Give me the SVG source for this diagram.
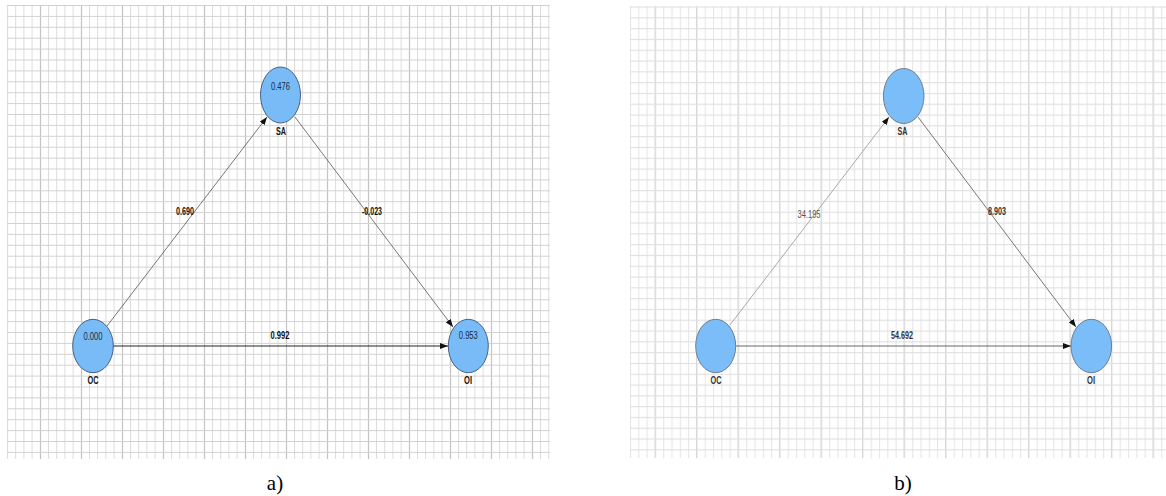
<svg xmlns="http://www.w3.org/2000/svg" width="1166" height="496" viewBox="0 0 1166 496">
<style>
.node{fill:#79bbf7;stroke:#3d5670;stroke-width:0.9}
.nodeb{fill:#7bbdf8;stroke:#6d7f90;stroke-width:1}
.val{font-family:"Liberation Sans Narrow","Liberation Sans",sans-serif;font-size:10px;fill:#1a2a3a;text-anchor:middle}
.lbl{font-family:"Liberation Sans Narrow","Liberation Sans",sans-serif;font-size:10px;font-weight:bold;fill:#111;text-anchor:middle}
.lblb{font-family:"Liberation Sans Narrow","Liberation Sans",sans-serif;font-size:10px;font-weight:bold;fill:#333;text-anchor:middle}
.elbl{font-family:"Liberation Sans Narrow","Liberation Sans",sans-serif;font-size:10px;font-weight:bold;fill:#111;text-anchor:middle}
.cap{font-family:"Liberation Serif",serif;font-size:21px;fill:#000;text-anchor:middle}
</style>
<defs>
<pattern id="va" x="7" y="0" width="8.2" height="10" patternUnits="userSpaceOnUse"><line x1="0.5" y1="0" x2="0.5" y2="10" stroke="#dcdcdc" stroke-width="1"/></pattern>
<pattern id="vA" x="40" y="0" width="41" height="10" patternUnits="userSpaceOnUse"><line x1="0.5" y1="0" x2="0.5" y2="10" stroke="#c4c4c4" stroke-width="1.2"/></pattern>
<pattern id="ha" x="0" y="5" width="10" height="10.9" patternUnits="userSpaceOnUse"><line x1="0" y1="0.5" x2="10" y2="0.5" stroke="#d2d2d2" stroke-width="1"/></pattern>
<pattern id="vb" x="630" y="0" width="8.3" height="10" patternUnits="userSpaceOnUse"><line x1="0.5" y1="0" x2="0.5" y2="10" stroke="#e6e6e6" stroke-width="1.2"/></pattern>
<pattern id="vB" x="696" y="0" width="41.5" height="10" patternUnits="userSpaceOnUse"><line x1="0.5" y1="0" x2="0.5" y2="10" stroke="#d8d8d8" stroke-width="1.4"/></pattern>
<pattern id="hb" x="0" y="6.5" width="10" height="10.8" patternUnits="userSpaceOnUse"><line x1="0" y1="0.5" x2="10" y2="0.5" stroke="#e0e0e0" stroke-width="1.3"/></pattern>
<marker id="arr" markerWidth="8" markerHeight="6" refX="8" refY="3" orient="auto" markerUnits="userSpaceOnUse"><path d="M0,0 L8,3 L0,6 Z" fill="#111"/></marker>
</defs>
<rect width="1166" height="496" fill="#fff"/>
<g id="grid-a">
<rect x="7" y="5" width="543" height="454" fill="url(#va)"/>
<rect x="7" y="5" width="543" height="454" fill="url(#vA)"/>
<rect x="7" y="5" width="543" height="454" fill="url(#ha)"/>
</g>
<g id="grid-b">
<rect x="630" y="6" width="536" height="452" fill="url(#vb)"/>
<rect x="630" y="6" width="536" height="452" fill="url(#vB)"/>
<rect x="630" y="6" width="536" height="452" fill="url(#hb)"/>
</g>
<g id="connectors">
<line x1="107" y1="326" x2="267" y2="117" stroke="#555" stroke-width="0.8" marker-end="url(#arr)"/>
<line x1="295" y1="117" x2="453" y2="327" stroke="#555" stroke-width="0.8" marker-end="url(#arr)"/>
<line x1="113" y1="346" x2="448" y2="346" stroke="#222" stroke-width="1" marker-end="url(#arr)"/>
<line x1="730" y1="325" x2="889" y2="117" stroke="#aaa" stroke-width="1" marker-end="url(#arr)"/>
<line x1="918" y1="117" x2="1076" y2="327" stroke="#777" stroke-width="1" marker-end="url(#arr)"/>
<line x1="736" y1="346" x2="1071" y2="346" stroke="#666" stroke-width="1" marker-end="url(#arr)"/>
<text class="elbl" x="185" y="215" textLength="18" lengthAdjust="spacingAndGlyphs">0.690</text>
<text class="elbl" x="372" y="215" textLength="20" lengthAdjust="spacingAndGlyphs">-0.023</text>
<text class="elbl" x="280" y="339" textLength="19" lengthAdjust="spacingAndGlyphs">0.992</text>
<text class="val" x="809" y="218" style="fill:#555" textLength="23" lengthAdjust="spacingAndGlyphs">34.195</text>
<text class="elbl" x="997" y="215" style="fill:#333" textLength="18" lengthAdjust="spacingAndGlyphs">8.903</text>
<text class="elbl" x="902" y="339" style="fill:#333" textLength="22" lengthAdjust="spacingAndGlyphs">54.692</text>
</g>
<g id="a-SA"><ellipse class="node" cx="280.5" cy="95" rx="20" ry="28"/><text class="val" x="280.5" y="90" textLength="19" lengthAdjust="spacingAndGlyphs">0.476</text><text class="lbl" x="281" y="135" textLength="10" lengthAdjust="spacingAndGlyphs">SA</text></g>
<g id="a-OC"><ellipse class="node" cx="93" cy="346" rx="20.3" ry="26.7"/><text class="val" x="93" y="340" textLength="19" lengthAdjust="spacingAndGlyphs">0.000</text><text class="lbl" x="93" y="384" textLength="11" lengthAdjust="spacingAndGlyphs">OC</text></g>
<g id="a-OI"><ellipse class="node" cx="468.3" cy="346" rx="20" ry="26.7"/><text class="val" x="468.3" y="339" textLength="19" lengthAdjust="spacingAndGlyphs">0.953</text><text class="lbl" x="468" y="384" textLength="8" lengthAdjust="spacingAndGlyphs">OI</text></g>
<g id="b-SA"><ellipse class="nodeb" cx="903.7" cy="96" rx="20.3" ry="27.5"/><text class="lblb" x="902.5" y="135" textLength="10" lengthAdjust="spacingAndGlyphs">SA</text></g>
<g id="b-OC"><ellipse class="nodeb" cx="715.7" cy="346" rx="20" ry="26.7"/><text class="lblb" x="716" y="384" textLength="11" lengthAdjust="spacingAndGlyphs">OC</text></g>
<g id="b-OI"><ellipse class="nodeb" cx="1091.3" cy="346" rx="20.3" ry="26.7"/><text class="lblb" x="1091" y="384" textLength="8" lengthAdjust="spacingAndGlyphs">OI</text></g>
<text class="cap" x="275" y="490">a)</text>
<text class="cap" x="903" y="490">b)</text>
</svg>
